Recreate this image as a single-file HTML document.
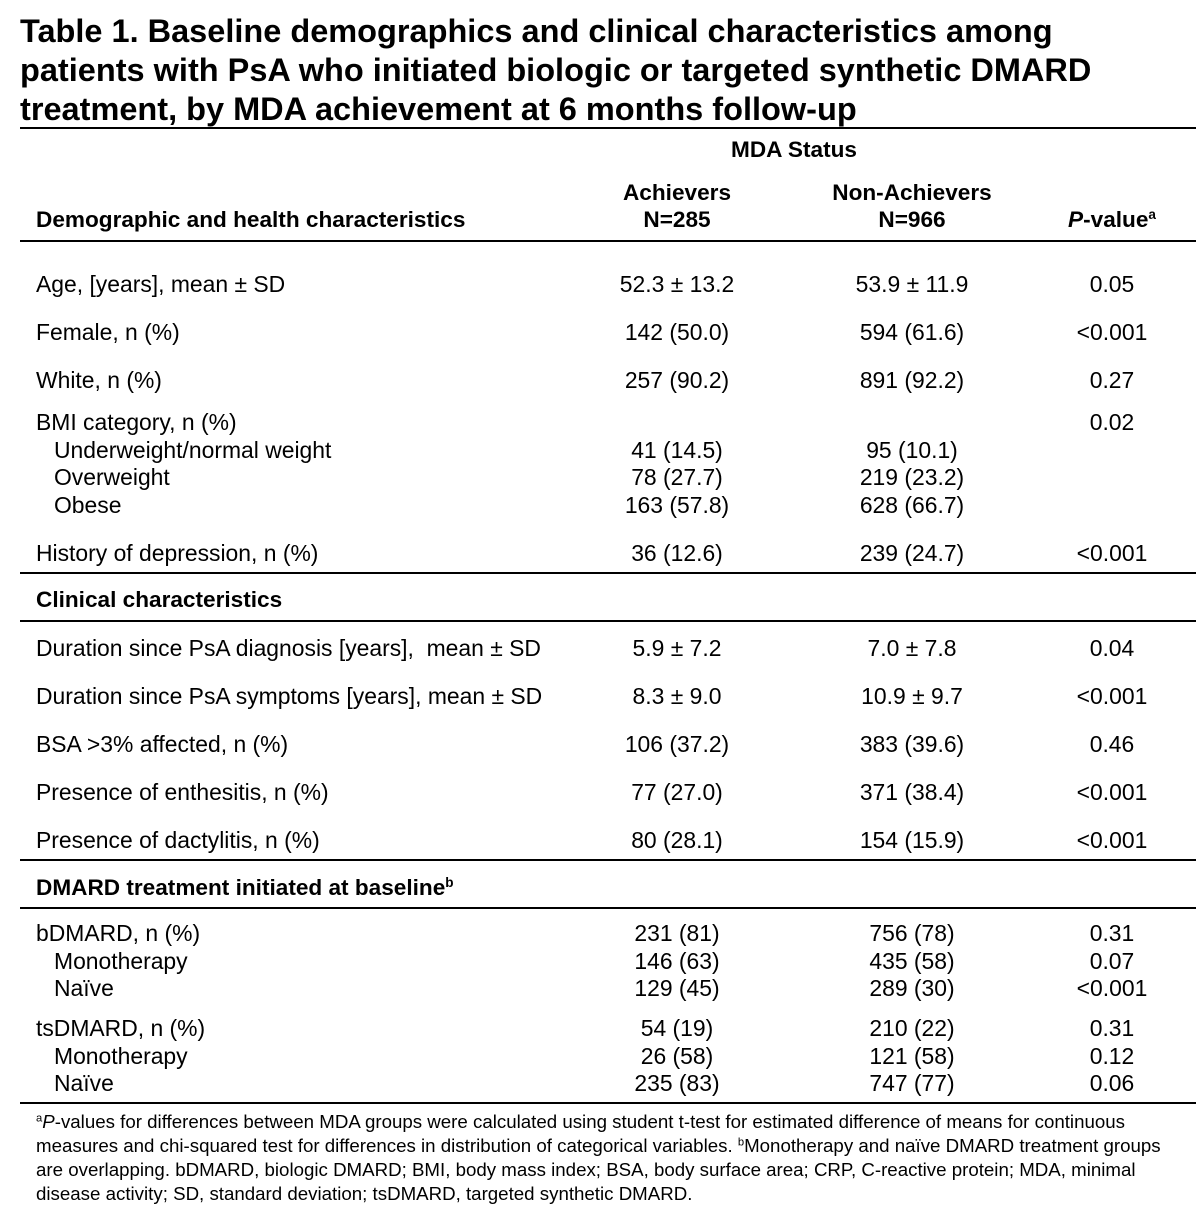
<!DOCTYPE html>
<html><head><meta charset="utf-8">
<style>
html,body{margin:0;padding:0;background:#fff;}
body{width:1198px;height:1216px;position:relative;overflow:hidden;font-family:"Liberation Sans",Arial,sans-serif;color:#000;}
.t{position:absolute;white-space:nowrap;line-height:28px;height:28px;font-size:22.9px;}
.c{transform:translateX(-50%);}
.h{font-size:22.6px;font-weight:bold;}
.ttl{position:absolute;left:20px;font-size:32.5px;font-weight:bold;line-height:40px;white-space:nowrap;}
.ln{position:absolute;left:20px;width:1176px;height:2px;background:#000;}
.fn{position:absolute;left:36px;font-size:18.7px;line-height:24px;white-space:nowrap;}
sup{font-size:0.6em;vertical-align:0.6em;line-height:0;}
</style></head><body>
<div>
<div class="ttl" style="top:11px">Table 1. Baseline demographics and clinical characteristics among</div>
<div class="ttl" style="top:50px">patients with PsA who initiated biologic or targeted synthetic DMARD</div>
<div class="ttl" style="top:89px">treatment, by MDA achievement at 6 months follow-up</div>
</div>
<div class="ln" style="top:127px"></div>
<div class="t h c" style="left:794px;top:136px">MDA Status</div>
<div class="t h c" style="left:677px;top:179px">Achievers</div>
<div class="t h c" style="left:677px;top:206px">N=285</div>
<div class="t h c" style="left:912px;top:179px">Non-Achievers</div>
<div class="t h c" style="left:912px;top:206px">N=966</div>
<div class="t h c" style="left:1112px;top:206px"><i>P</i>-value<sup>a</sup></div>
<div class="t h" style="left:36px;top:206px">Demographic and health characteristics</div>
<div class="ln" style="top:240px"></div>

<div>
<div class="t" style="left:36px;top:270px">Age, [years], mean ± SD</div><div class="t c" style="left:677px;top:270px">52.3 ± 13.2</div><div class="t c" style="left:912px;top:270px">53.9 ± 11.9</div><div class="t c" style="left:1112px;top:270px">0.05</div>
<div class="t" style="left:36px;top:318px">Female, n (%)</div><div class="t c" style="left:677px;top:318px">142 (50.0)</div><div class="t c" style="left:912px;top:318px">594 (61.6)</div><div class="t c" style="left:1112px;top:318px">&lt;0.001</div>
<div class="t" style="left:36px;top:366px">White, n (%)</div><div class="t c" style="left:677px;top:366px">257 (90.2)</div><div class="t c" style="left:912px;top:366px">891 (92.2)</div><div class="t c" style="left:1112px;top:366px">0.27</div>
<div class="t" style="left:36px;top:408px">BMI category, n (%)</div><div class="t c" style="left:1112px;top:408px">0.02</div>
<div class="t" style="left:54px;top:436px">Underweight/normal weight</div><div class="t c" style="left:677px;top:436px">41 (14.5)</div><div class="t c" style="left:912px;top:436px">95 (10.1)</div>
<div class="t" style="left:54px;top:463px">Overweight</div><div class="t c" style="left:677px;top:463px">78 (27.7)</div><div class="t c" style="left:912px;top:463px">219 (23.2)</div>
<div class="t" style="left:54px;top:491px">Obese</div><div class="t c" style="left:677px;top:491px">163 (57.8)</div><div class="t c" style="left:912px;top:491px">628 (66.7)</div>
<div class="t" style="left:36px;top:539px">History of depression, n (%)</div><div class="t c" style="left:677px;top:539px">36 (12.6)</div><div class="t c" style="left:912px;top:539px">239 (24.7)</div><div class="t c" style="left:1112px;top:539px">&lt;0.001</div>
</div>
<div class="ln" style="top:572px"></div>
<div class="t h" style="left:36px;top:586px">Clinical characteristics</div>
<div class="ln" style="top:620px"></div>

<div>
<div class="t" style="left:36px;top:634px">Duration since PsA diagnosis [years],&nbsp; mean ± SD</div><div class="t c" style="left:677px;top:634px">5.9 ± 7.2</div><div class="t c" style="left:912px;top:634px">7.0 ± 7.8</div><div class="t c" style="left:1112px;top:634px">0.04</div>
<div class="t" style="left:36px;top:682px">Duration since PsA symptoms [years], mean ± SD</div><div class="t c" style="left:677px;top:682px">8.3 ± 9.0</div><div class="t c" style="left:912px;top:682px">10.9 ± 9.7</div><div class="t c" style="left:1112px;top:682px">&lt;0.001</div>
<div class="t" style="left:36px;top:730px">BSA &gt;3% affected, n (%)</div><div class="t c" style="left:677px;top:730px">106 (37.2)</div><div class="t c" style="left:912px;top:730px">383 (39.6)</div><div class="t c" style="left:1112px;top:730px">0.46</div>
<div class="t" style="left:36px;top:778px">Presence of enthesitis, n (%)</div><div class="t c" style="left:677px;top:778px">77 (27.0)</div><div class="t c" style="left:912px;top:778px">371 (38.4)</div><div class="t c" style="left:1112px;top:778px">&lt;0.001</div>
<div class="t" style="left:36px;top:826px">Presence of dactylitis, n (%)</div><div class="t c" style="left:677px;top:826px">80 (28.1)</div><div class="t c" style="left:912px;top:826px">154 (15.9)</div><div class="t c" style="left:1112px;top:826px">&lt;0.001</div>
</div>
<div class="ln" style="top:859px"></div>
<div class="t h" style="left:36px;top:874px">DMARD treatment initiated at baseline<sup>b</sup></div>
<div class="ln" style="top:907px"></div>

<div>
<div class="t" style="left:36px;top:919px">bDMARD, n (%)</div><div class="t c" style="left:677px;top:919px">231 (81)</div><div class="t c" style="left:912px;top:919px">756 (78)</div><div class="t c" style="left:1112px;top:919px">0.31</div>
<div class="t" style="left:54px;top:947px">Monotherapy</div><div class="t c" style="left:677px;top:947px">146 (63)</div><div class="t c" style="left:912px;top:947px">435 (58)</div><div class="t c" style="left:1112px;top:947px">0.07</div>
<div class="t" style="left:54px;top:974px">Naïve</div><div class="t c" style="left:677px;top:974px">129 (45)</div><div class="t c" style="left:912px;top:974px">289 (30)</div><div class="t c" style="left:1112px;top:974px">&lt;0.001</div>
<div class="t" style="left:36px;top:1014px">tsDMARD, n (%)</div><div class="t c" style="left:677px;top:1014px">54 (19)</div><div class="t c" style="left:912px;top:1014px">210 (22)</div><div class="t c" style="left:1112px;top:1014px">0.31</div>
<div class="t" style="left:54px;top:1042px">Monotherapy</div><div class="t c" style="left:677px;top:1042px">26 (58)</div><div class="t c" style="left:912px;top:1042px">121 (58)</div><div class="t c" style="left:1112px;top:1042px">0.12</div>
<div class="t" style="left:54px;top:1069px">Naïve</div><div class="t c" style="left:677px;top:1069px">235 (83)</div><div class="t c" style="left:912px;top:1069px">747 (77)</div><div class="t c" style="left:1112px;top:1069px">0.06</div>
</div>
<div class="ln" style="top:1102px"></div>

<div>
<div class="fn" style="top:1110px"><sup>a</sup><i>P</i>-values for differences between MDA groups were calculated using student t-test for estimated difference of means for continuous</div>
<div class="fn" style="top:1134px">measures and chi-squared test for differences in distribution of categorical variables. <sup>b</sup>Monotherapy and naïve DMARD treatment groups</div>
<div class="fn" style="top:1158px">are overlapping. bDMARD, biologic DMARD; BMI, body mass index; BSA, body surface area; CRP, C-reactive protein; MDA, minimal</div>
<div class="fn" style="top:1182px">disease activity; SD, standard deviation; tsDMARD, targeted synthetic DMARD.</div>
</div>
</body></html>
